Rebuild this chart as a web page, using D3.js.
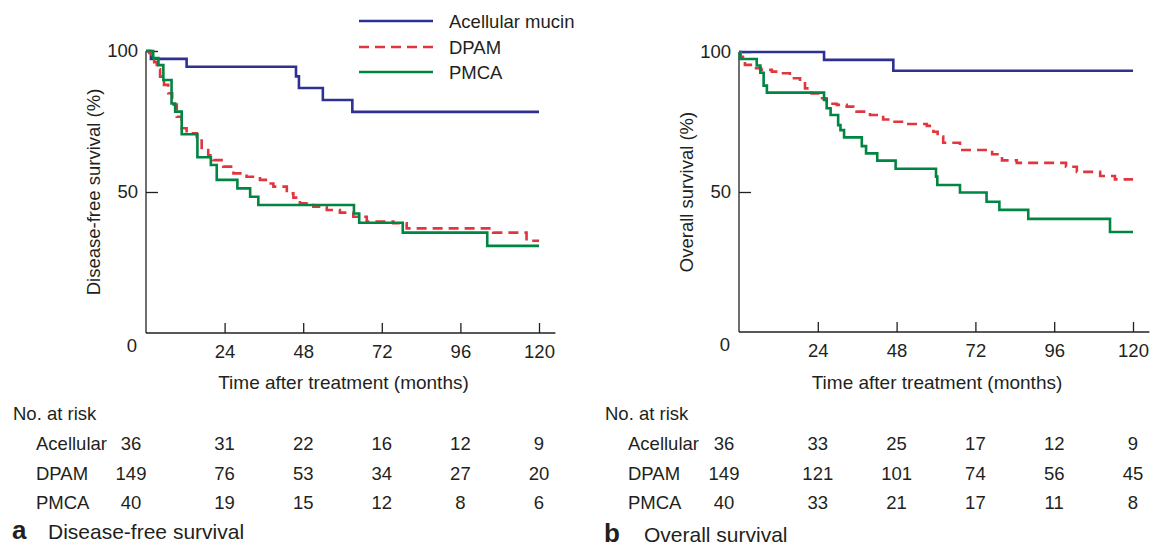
<!DOCTYPE html>
<html>
<head>
<meta charset="utf-8">
<script src="https://cdn.jsdelivr.net/npm/d3@7/dist/d3.min.js"></script>
<style>
  html, body { margin: 0; padding: 0; background: #fff; }
  text { font-family: "Liberation Sans", Arial, Helvetica, sans-serif; fill: #231f20; }
</style>
</head>
<body>
<svg id="chart" width="1150" height="548"></svg>
<script>
// ---------- Data ----------
const seriesNames = ["Acellular mucin", "DPAM", "PMCA"];
const riskLabels = ["Acellular", "DPAM", "PMCA"];
const xTicks = [24, 48, 72, 96, 120];
const yTicks = [50, 100];
const riskTimes = [0, 24, 48, 72, 96, 120];

// Disease-free survival, step points [month, survival %]
const dfsAcellular = [[0,100],[1.5,97.2],[12.4,94.4],[45.8,91.0],[46.7,86.9],[54,82.6],[63,78.4],[120,78.4]];
const dfsDPAM = [[0,100],[1.0,99.3],[1.7,98.6],[2.5,96],[3.3,93.5],[4.3,90.9],[5.5,88],[6.8,85],[8,81],[9.4,76.7],
  [10.9,72.6],[12.4,70.8],[15.5,69],[17,64.9],[19,63],[20.6,61.3],[23.6,59],[26.7,56.6],[30.7,55.4],[34.8,54.3],
  [37,53],[38.9,51.9],[43,49.5],[45,48],[47,46],[51.1,44.8],[55.2,43.6],[59.2,42.7],[63.3,41.2],[67.4,39.5],
  [75.5,38.9],[79.6,37.1],[106,35.6],[116.2,32.7],[120,32.7]];
const dfsPMCA = [[0,100],[2.2,97.5],[3.8,95],[5.3,89.7],[7.8,81.4],[8.9,78.5],[10.9,70.5],[15.7,62.3],[19.8,59.6],
  [21.6,54.3],[27.9,51.3],[31.8,48.3],[34.3,45.4],[63.5,42.4],[65.1,39.1],[78.4,35.6],[104.2,30.9],[120,30.9]];

// Overall survival
const osAcellular = [[0,100],[25.9,97.2],[47,93.3],[120,93.3]];
const osDPAM = [[0,100],[0.5,98.3],[1.8,95.4],[4.2,94.2],[6.7,93.6],[10,93],[12.5,92.4],[15.5,90.6],[18.6,89.4],
  [20.1,87],[22.1,85.2],[24.7,83.5],[26.7,81.5],[29.8,81.1],[32.8,80.5],[34.8,79.3],[35.8,78.7],[39.9,77.5],
  [43.9,75.9],[46.9,75.1],[51.1,74.3],[57.2,73.6],[59.2,71.5],[60.5,69.8],[62.2,67.6],[67.3,65],[77.1,63.5],
  [80.1,61.3],[84.6,60.4],[99.6,59],[102.9,57.2],[110,55.7],[114.5,54.5],[120,54.5]];
const osPMCA = [[0,100],[0.3,97.5],[5.4,95.2],[6.5,92.6],[7.5,88],[8.5,85.5],[25.9,82.9],[26.7,79.9],[27.9,77.5],
  [30.2,73.9],[30.9,72.1],[32,69.5],[37.4,66.4],[38.7,63.8],[42.1,61.2],[47.7,58.3],[60,55.5],[60.4,52.5],
  [67.3,49.8],[75.4,46.5],[79.3,43.6],[88.1,40.4],[113,35.7],[120,35.7]];

// Number at risk
const dfsRiskAcellular = [36, 31, 22, 16, 12, 9];
const dfsRiskDPAM = [149, 76, 53, 34, 27, 20];
const dfsRiskPMCA = [40, 19, 15, 12, 8, 6];
const osRiskAcellular = [36, 33, 25, 17, 12, 9];
const osRiskDPAM = [149, 121, 101, 74, 56, 45];
const osRiskPMCA = [40, 33, 21, 17, 11, 8];

// ---------- Styles ----------
const colors = ["#2e3192", "#e2363f", "#008542"];
const dashes = [null, "10,6", null];
const FS = 18.5;

const svg = d3.select("#chart");

const panels = [
  { left: 146, right: 539, top: 51, bottom: 333, yLabel: "Disease-free survival (%)", yLabelX: 100,
    curves: [dfsAcellular, dfsDPAM, dfsPMCA], risk: [dfsRiskAcellular, dfsRiskDPAM, dfsRiskPMCA],
    tableX: 13, letter: "a", caption: "Disease-free survival", capY: 539, capTextX: 48 },
  { left: 739, right: 1133, top: 52, bottom: 332, yLabel: "Overall survival (%)", yLabelX: 693,
    curves: [osAcellular, osDPAM, osPMCA], risk: [osRiskAcellular, osRiskDPAM, osRiskPMCA],
    tableX: 605, letter: "b", caption: "Overall survival", capY: 542, capTextX: 644 }
];

panels.forEach(p => {
  const x = d3.scaleLinear().domain([0, 120]).range([p.left, p.right]);
  const y = d3.scaleLinear().domain([0, 100]).range([p.bottom, p.top]);
  const g = svg.append("g");

  // axis lines
  g.append("line").attr("x1", x(0)).attr("x2", x(125)).attr("y1", y(0)).attr("y2", y(0))
    .attr("stroke", "#231f20").attr("stroke-width", 1.3);
  g.append("line").attr("x1", x(0)).attr("x2", x(0)).attr("y1", y(0)).attr("y2", y(100))
    .attr("stroke", "#231f20").attr("stroke-width", 1.3);

  const xAxis = g.append("g").attr("transform", `translate(0,${y(0)})`)
    .call(d3.axisBottom(x).tickValues(xTicks).tickSize(-10).tickPadding(12).tickFormat(d3.format("d")));
  const yAxis = g.append("g").attr("transform", `translate(${x(0)},0)`)
    .call(d3.axisLeft(y).tickValues(yTicks).tickSize(-12).tickPadding(8).tickFormat(d3.format("d")));
  [xAxis, yAxis].forEach(a => {
    a.select(".domain").remove();
    a.selectAll(".tick line").attr("stroke", "#231f20").attr("stroke-width", 1.3);
    a.selectAll(".tick text").style("font-size", FS + "px").attr("fill", "#231f20")
      .style("font-family", '"Liberation Sans", Arial, sans-serif');
  });

  g.append("text").attr("x", x(0) - 9).attr("y", y(0) + 19).attr("text-anchor", "end")
    .style("font-size", FS + "px").text("0");

  // axis titles
  g.append("text").attr("x", (x(0) + x(120)) / 2 + 1).attr("y", 389).attr("text-anchor", "middle")
    .style("font-size", "19px").text("Time after treatment (months)");
  g.append("text").attr("transform", `translate(${p.yLabelX},${y(50)}) rotate(-90)`)
    .attr("text-anchor", "middle").style("font-size", FS + "px").text(p.yLabel);

  // curves
  const line = d3.line().x(d => x(d[0])).y(d => y(d[1])).curve(d3.curveStepAfter);
  p.curves.forEach((c, i) => {
    g.append("path").datum(c).attr("d", line).attr("fill", "none")
      .attr("stroke", colors[i]).attr("stroke-width", 2.6)
      .attr("stroke-dasharray", dashes[i]);
  });

  // number-at-risk table
  const rowY = [450, 480, 509];
  g.append("text").attr("x", p.tableX).attr("y", 420).style("font-size", FS + "px").text("No. at risk");
  p.risk.forEach((vals, r) => {
    g.append("text").attr("x", p.tableX + 23).attr("y", rowY[r]).style("font-size", FS + "px").text(riskLabels[r]);
    g.selectAll(null).data(vals).enter().append("text")
      .attr("x", (d, j) => riskTimes[j] === 0 ? x(0) - 15 : x(riskTimes[j]))
      .attr("y", rowY[r]).attr("text-anchor", "middle")
      .style("font-size", FS + "px").text(d => d);
  });

  // caption
  g.append("text").attr("x", p.tableX - 1).attr("y", p.capY).style("font-size", "26px")
    .style("font-weight", "bold").text(p.letter);
  g.append("text").attr("x", p.capTextX).attr("y", p.capY).style("font-size", "21px").text(p.caption);
});

// legend
const legY = [21, 47, 72];
const leg = svg.append("g");
seriesNames.forEach((n, i) => {
  leg.append("line").attr("x1", 359).attr("x2", 433).attr("y1", legY[i]).attr("y2", legY[i])
    .attr("stroke", colors[i]).attr("stroke-width", 2.6).attr("stroke-dasharray", dashes[i]);
  leg.append("text").attr("x", 449).attr("y", legY[i] + 6.6).style("font-size", FS + "px").text(n);
});
</script>
</body>
</html>
